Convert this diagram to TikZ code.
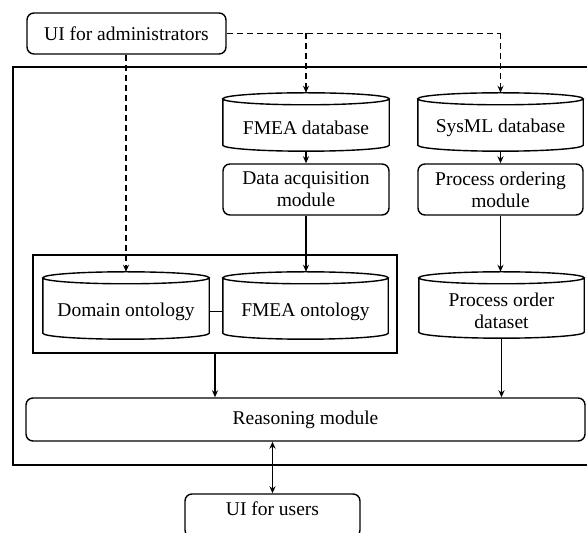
\documentclass[tikz,border=0pt]{standalone}
\usepackage{fontspec}
\setmainfont{Liberation Serif}
\usetikzlibrary{arrows.meta,calc}
\tikzset{
  x=1pt,y=1pt,
  lw/.style={line width=1.4pt},
  txt/.style={font=\fontsize{19.5}{22}\selectfont,align=center,inner sep=0pt},
  rbox/.style={lw,draw,rounded corners=7pt,minimum width=#1,inner sep=0pt,txt},
  dbbox/.style={draw=none,inner sep=0pt},
  arr/.style={lw,-{Stealth[length=7pt,width=6pt]}},
  darr/.style={lw,{Stealth[length=7pt,width=6pt]}-{Stealth[length=7pt,width=6pt]}},
  dashln/.style={lw,dash pattern=on 6pt off 4pt},
}
\newcommand\drawcyl[1]{%
  \draw[lw] let \p1=(#1.north west), \p2=(#1.south east),
      \n1={(\x2-\x1)/2} in
    ($(\x1,\y1)+(\n1,-6pt)$) ellipse [x radius=\n1, y radius=6pt]
    (\x1,\y1-6pt) -- (\x1,\y2+6pt) arc[start angle=180,end angle=360,x radius=\n1,y radius=6pt]
    -- (\x2,\y1-6pt);
}
\begin{document}
\begin{tikzpicture}
\useasboundingbox (0,0) rectangle (587,533);
% outer frame
\node[lw,draw,minimum width=587pt,minimum height=398pt,inner sep=0pt] (outer) at (306.5,267) {};
% admin UI
\node[rbox=199pt,minimum height=41pt] (admin) at (126.5,499.5) {UI for administrators};
% databases
\node[dbbox,minimum width=166pt,minimum height=58pt] (fdb) at (306,411) {};
\node[txt] (fdbt) at ([yshift=-6pt]fdb.center) {FMEA database};
\drawcyl{fdb}
\node[dbbox,minimum width=165pt,minimum height=58pt] (sdb) at (500.5,411) {};
\node[txt] (sdbt) at ([yshift=-6pt]sdb.center) {SysML database};
\drawcyl{sdb}
% modules
\node[rbox=166pt,minimum height=51pt] (daq) at (306,343.5) {Data acquisition\\module};
\node[rbox=165pt,minimum height=51pt] (pom) at (500.5,343.5) {Process ordering\\module};
% ontology group
\node[lw,draw,minimum width=364pt,minimum height=98pt,inner sep=0pt] (grp) at (215,229) {};
\node[dbbox,minimum width=166pt,minimum height=67pt] (dont) at (126,227.5) {};
\node[txt] (dontt) at ([yshift=-6pt]dont.center) {Domain ontology};
\drawcyl{dont}
\node[dbbox,minimum width=165pt,minimum height=67pt] (font) at (305.5,227.5) {};
\node[txt] (fontt) at ([yshift=-6pt]font.center) {FMEA ontology};
\drawcyl{font}
\node[dbbox,minimum width=165pt,minimum height=66pt] (pod) at (501.5,228) {};
\node[txt] (podt) at ([yshift=-6pt]pod.center) {Process order\\dataset};
\drawcyl{pod}
% reasoning
\node[rbox=559pt,minimum height=43pt] (reason) at (305.5,113.5) {Reasoning module};
\node[rbox=175pt,minimum height=43pt] (users) at (272.5,17.5) {};
\node[txt] (userst) at (272.5,24) {UI for users};
% dashed links
\coordinate (jf) at (fdb.north |- admin.east);
\coordinate (js) at (sdb.north |- admin.east);
\draw[dashln] (admin.east) -- (js);
\draw[dashln,-{Stealth[length=7pt,width=6pt]}] (js) -- (sdb.north);
\draw[dashln,-{Stealth[length=7pt,width=6pt]}] (jf) -- (fdb.north);
\draw[dashln,-{Stealth[length=7pt,width=6pt]}] (admin.south -| dont.north) -- (dont.north);
% solid links
\draw[arr] (fdb.south) -- (daq.north);
\draw[arr] (daq.south) -- (daq.south |- font.north);
\draw[arr] (sdb.south) -- (sdb.south |- pom.north);
\draw[arr] (pom.south) -- (pom.south |- pod.north);
\draw[lw] (dont.east |- dontt.center) -- (font.west |- dontt.center);
\draw[arr] (grp.south) -- (grp.south |- reason.north);
\draw[arr] (pod.south) -- (pod.south |- reason.north);
\draw[darr] (users.north |- reason.south) -- (users.north);
\end{tikzpicture}
\end{document}
